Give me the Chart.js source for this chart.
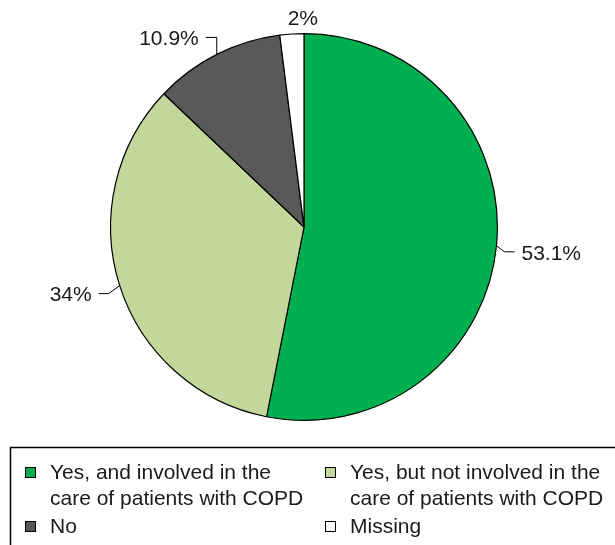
<!DOCTYPE html>
<html>
<head>
<meta charset="utf-8">
<script src="https://cdn.jsdelivr.net/npm/chart.js@4.4.1/dist/chart.umd.min.js"></script>
<style>
  html, body { margin: 0; padding: 0; background: #fff; }
  #wrap { width: 615px; height: 545px; position: relative; }
</style>
</head>
<body>
<div id="wrap"><canvas id="pieChart" width="615" height="545"></canvas></div>
<script>
// Chart data
const categories = [
    'Yes, and involved in the\ncare of patients with COPD',
    'Yes, but not involved in the\ncare of patients with COPD',
    'No',
    'Missing'
];
const shares = [53.1, 34, 10.9, 2];
const shareLabels = ['53.1%', '34%', '10.9%', '2%'];
const sliceColors = ['#00b050', '#c4d79b', '#595959', '#ffffff'];

const FONT = '"Liberation Sans", Arial, sans-serif';

// Percent labels with small leader lines
const pieLabels = {
    id: 'pieLabels',
    afterDatasetsDraw(chart, args, opts) {
        const ctx = chart.ctx;
        const arcs = chart.getDatasetMeta(0).data;
        ctx.save();
        ctx.font = '21px ' + FONT;
        ctx.fillStyle = '#1a1a1a';
        ctx.strokeStyle = '#000';
        ctx.lineWidth = 1;
        ctx.textBaseline = 'middle';
        arcs.forEach((arc, i) => {
            const p = arc.getProps(['x', 'y', 'startAngle', 'endAngle', 'outerRadius'], true);
            const mid = (p.startAngle + p.endAngle) / 2;
            const ex = p.x + Math.cos(mid) * p.outerRadius;
            const ey = p.y + Math.sin(mid) * p.outerRadius;
            const l = opts.leaders[i];
            if (l.h === 0) {
                ctx.textAlign = 'center';
                ctx.fillText(shareLabels[i], ex + l.dx, ey + l.dy);
                return;
            }
            const kx = ex + l.dx, ky = ey + l.dy;
            ctx.beginPath();
            ctx.moveTo(ex, ey);
            ctx.lineTo(kx, ky);
            ctx.lineTo(kx + l.h, ky);
            ctx.stroke();
            ctx.textAlign = l.h > 0 ? 'left' : 'right';
            ctx.fillText(shareLabels[i], kx + l.h + (l.h > 0 ? 7 : -7), ky + 2);
        });
        ctx.restore();
    }
};

// Boxed two-column legend under the pie
const boxLegend = {
    id: 'boxLegend',
    afterDraw(chart) {
        const ctx = chart.ctx;
        ctx.save();
        ctx.strokeStyle = '#000';
        ctx.lineWidth = 1.5;
        ctx.strokeRect(10.5, 447.5, 640, 140);
        ctx.font = '21px ' + FONT;
        ctx.textBaseline = 'middle';
        ctx.textAlign = 'left';
        const cols = [25, 325];
        const rows = [472, 526];
        categories.forEach((cat, i) => {
            const x = cols[i % 2];
            const y = rows[Math.floor(i / 2)];
            ctx.fillStyle = sliceColors[i];
            ctx.fillRect(x, y - 5, 11, 11);
            ctx.lineWidth = 1;
            ctx.strokeStyle = '#000';
            ctx.strokeRect(x + 0.5, y - 4.5, 10, 10);
            ctx.fillStyle = '#1a1a1a';
            cat.split('\n').forEach((line, j) => {
                ctx.fillText(line, x + 25, y + 1 + j * 26);
            });
        });
        ctx.restore();
    }
};

const chart = new Chart(document.getElementById('pieChart'), {
    type: 'pie',
    data: {
        labels: categories,
        datasets: [{
            data: shares,
            backgroundColor: sliceColors,
            borderColor: '#000',
            borderWidth: 1.2
        }]
    },
    options: {
        responsive: false,
        animation: false,
        layout: { padding: { top: 33, bottom: 124, left: 100, right: 107 } },
        plugins: {
            legend: { display: false },
            tooltip: { enabled: false },
            pieLabels: {
                leaders: [
                    { dx: 8, dy: 6, h: 10 },
                    { dx: -11, dy: 8, h: -10 },
                    { dx: 0, dy: -17, h: -11 },
                    { dx: 11, dy: -15, h: 0 }
                ]
            }
        }
    },
    plugins: [pieLabels, boxLegend]
});
</script>
</body>
</html>
